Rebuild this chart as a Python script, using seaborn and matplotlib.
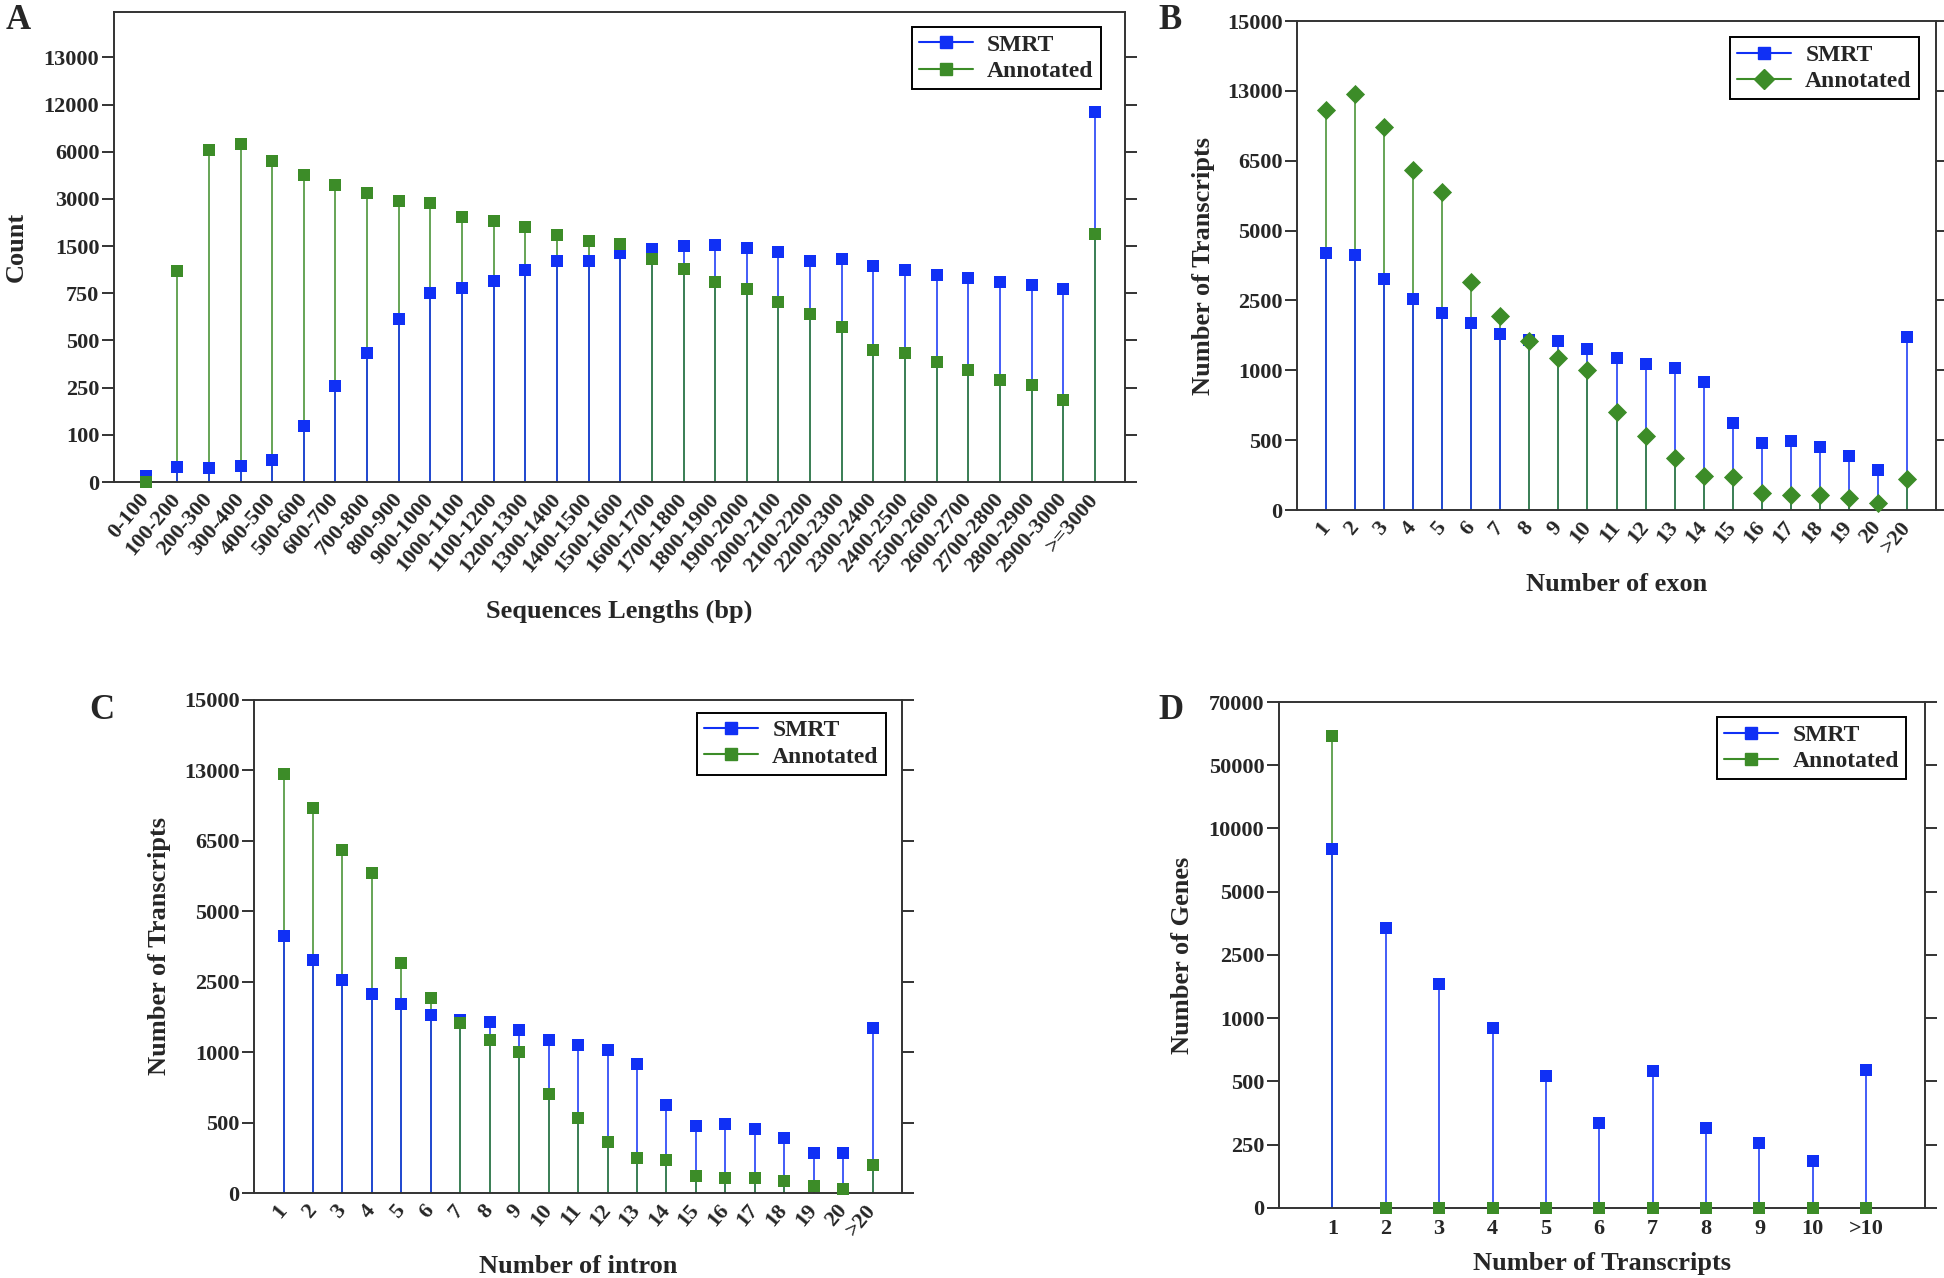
import numpy as np
import matplotlib
matplotlib.use("Agg")
import matplotlib.pyplot as plt
import seaborn as sns
from matplotlib.lines import Line2D
from matplotlib.legend_handler import HandlerLine2D

# ---- data ----
len_bins = ['0-100', '100-200', '200-300', '300-400', '400-500', '500-600', '600-700',
            '700-800', '800-900', '900-1000', '1000-1100', '1100-1200', '1200-1300',
            '1300-1400', '1400-1500', '1500-1600', '1600-1700', '1700-1800', '1800-1900',
            '1900-2000', '2000-2100', '2100-2200', '2200-2300', '2300-2400', '2400-2500',
            '2500-2600', '2600-2700', '2700-2800', '2800-2900', '2900-3000', '>=3000']
len_smrt = [12, 32, 29, 33, 46, 127, 258, 435, 613, 750, 840, 950, 1115, 1260, 1260, 1385,
            1460, 1500, 1540, 1465, 1400, 1260, 1290, 1182, 1127, 1048, 990, 930, 886, 815, 11050]
len_annot = [0, 1110, 6250, 6920, 5420, 4550, 3890, 3370, 2920, 2870, 2430, 2300, 2120,
             1855, 1660, 1565, 1298, 1140, 932, 815, 703, 640, 570, 448, 433, 386, 343,
             293, 262, 212, 1880]
len_ticks = [0, 100, 250, 500, 750, 1500, 3000, 6000, 12000, 13000]

exon_labels = ['1', '2', '3', '4', '5', '6', '7', '8', '9', '10', '11', '12', '13', '14',
               '15', '16', '17', '18', '19', '20', '>20']
exon_smrt = [4190, 4135, 3270, 2555, 2231, 2027, 1783, 1652, 1636, 1465, 1261, 1147, 1041,
             918, 620, 478, 492, 451, 390, 286, 1726]
exon_annot = [11260, 12750, 9625, 6303, 5828, 3145, 2158, 1628, 1261, 1000, 699, 530, 369,
              245, 239, 124, 110, 110, 88, 47, 225]

intron_labels = ['1', '2', '3', '4', '5', '6', '7', '8', '9', '10', '11', '12', '13', '14',
                 '15', '16', '17', '18', '19', '20', '>20']
intron_smrt = [4122, 3284, 2568, 2240, 2030, 1786, 1689, 1632, 1470, 1268, 1146, 1040, 919,
               622, 476, 492, 451, 391, 285, 285, 1511]
intron_annot = [12684, 9557, 6297, 5819, 3149, 2159, 1616, 1259, 1000, 700, 532, 364, 245,
                236, 122, 109, 109, 84, 49, 27, 196]
tx_ticks = [0, 500, 1000, 2500, 5000, 6500, 13000, 15000]

iso_labels = ['1', '2', '3', '4', '5', '6', '7', '8', '9', '10', '>10']
iso_smrt = [8373, 3569, 1800, 925, 542, 334, 581, 316, 256, 184, 590]
iso_annot = [59220, 0, 0, 0, 0, 0, 0, 0, 0, 0, 0]
gene_ticks = [0, 250, 500, 1000, 2500, 5000, 10000, 50000, 70000]

BLUE = '#1030F5'
GREEN = '#3C8C28'
EDGE = '#333333'

sns.set_style("white")
plt.rcParams['font.family'] = ['Liberation Serif', 'DejaVu Serif']
plt.rcParams['font.weight'] = 'bold'


class EndMarker(HandlerLine2D):
    # MATLAB-like legend icon: line with the marker at its right end
    def get_xdata(self, legend, xdescent, ydescent, width, height, fontsize):
        return [-xdescent, -xdescent + width], [-xdescent + width]


def piecewise(ticks, top):
    vals = np.array(list(ticks) + [top], dtype=float)
    pos = np.arange(len(vals), dtype=float)
    return (lambda v: np.interp(v, vals, pos)), (lambda p: np.interp(p, pos, vals))


def stem_panel(ax, x, smrt, annot, labels, ticks, ylim_top, scale_top, amarker,
               xlabel, ylabel, rot, ylab_x, xlab_y, leg_anchor):
    fwd, inv = piecewise(ticks, scale_top)
    ax.set_yscale('function', functions=(fwd, inv))
    smrt = np.asarray(smrt, float)
    annot = np.asarray(annot, float)
    hi = np.maximum(smrt, annot)
    lo = np.minimum(smrt, annot)
    hi_c = [BLUE if s >= a else GREEN for s, a in zip(smrt, annot)]
    lo_c = [GREEN if s >= a else BLUE for s, a in zip(smrt, annot)]
    ax.vlines(x, 0, hi, colors=hi_c, lw=1.1, zorder=2)
    ax.vlines(x, 0, lo, colors=lo_c, lw=1.1, zorder=2)
    sns.scatterplot(x=x, y=smrt, ax=ax, marker='s', color=BLUE, s=75, linewidth=0,
                    zorder=4, clip_on=False, legend=False)
    sns.scatterplot(x=x, y=annot, ax=ax, marker=amarker, color=GREEN,
                    s=95 if amarker == 'D' else 75, linewidth=0,
                    zorder=5, clip_on=False, legend=False)
    ax.set_ylim(0, ylim_top)
    ax.set_yticks(ticks)
    ax.set_yticklabels([str(t) for t in ticks], fontsize=16, fontweight='bold')
    ax.set_xticks(x)
    if rot:
        ax.set_xticklabels(labels, rotation=rot, ha='right', va='center',
                           rotation_mode='anchor', fontsize=16, fontweight='bold')
    else:
        ax.set_xticklabels(labels, fontsize=16, fontweight='bold')
    ax.tick_params(axis='x', length=0, pad=10 if rot else 8)
    ax.tick_params(axis='y', which='both', direction='out', length=8.5, width=1.4,
                   color=EDGE, left=True, right=True, labelleft=True, labelright=False,
                   pad=2)
    for sp in ax.spines.values():
        sp.set_visible(True)
        sp.set_color(EDGE)
        sp.set_linewidth(1.4)
    ax.set_xlabel(xlabel, fontsize=19, fontweight='bold')
    ax.set_ylabel(ylabel, fontsize=19, fontweight='bold')
    ax.yaxis.set_label_coords(ylab_x, 0.5)
    ax.xaxis.set_label_coords(0.5, xlab_y)
    handles = [Line2D([], [], color=BLUE, lw=1.5, marker='s', ms=9, label='SMRT'),
               Line2D([], [], color=GREEN, lw=1.5, marker=amarker,
                      ms=10 if amarker == 'D' else 9, label='Annotated')]
    leg = ax.legend(handles=handles, handler_map={Line2D: EndMarker()}, loc='upper right',
                    bbox_to_anchor=leg_anchor, borderaxespad=0, fancybox=False,
                    edgecolor='black', framealpha=1, handlelength=2.3,
                    prop={'size': 17, 'weight': 'bold'}, borderpad=0.3,
                    labelspacing=0.2, handletextpad=0.6)
    leg.get_frame().set_linewidth(1.4)


fig = plt.figure(figsize=(19.44, 12.78), dpi=100)
axA = fig.add_axes([0.0586, 0.6228, 0.5201, 0.3678])
axB = fig.add_axes([0.6672, 0.6009, 0.3287, 0.3826])
axC = fig.add_axes([0.1307, 0.0665, 0.3333, 0.3858])
axD = fig.add_axes([0.6579, 0.0548, 0.3323, 0.3959])

xA = np.arange(len(len_bins))
stem_panel(axA, xA, len_smrt, len_annot, len_bins, len_ticks, 13960, 14000, 's',
           'Sequences Lengths (bp)', 'Count', 50, -0.085, -0.251, (0.976, 0.968))
axA.set_xlim(-1, len(len_bins) - 0.05)

xB = np.arange(1, len(exon_labels) + 1)
stem_panel(axB, xB, exon_smrt, exon_annot, exon_labels, tx_ticks, 15000, 17000, 'D',
           'Number of exon', 'Number of Transcripts', 50, -0.128, -0.129, (0.973, 0.967))
axB.set_xlim(0, len(exon_labels) + 1)

xC = np.arange(1, len(intron_labels) + 1)
stem_panel(axC, xC, intron_smrt, intron_annot, intron_labels, tx_ticks, 15000, 17000, 's',
           'Number of intron', 'Number of Transcripts', 50, -0.128, -0.126, (0.975, 0.974))
axC.set_xlim(0, len(intron_labels) + 1)

xD = np.arange(1, len(iso_labels) + 1)
stem_panel(axD, xD, iso_smrt, iso_annot, iso_labels, gene_ticks, 70000, 90000, 's',
           'Number of Transcripts', 'Number of Genes', 0, -0.132, -0.087, (0.971, 0.970))
axD.set_xlim(0, len(iso_labels) + 1.1)

for txt, x, y in [('A', 0.003, 0.997), ('B', 0.596, 0.997), ('C', 0.046, 0.457),
                  ('D', 0.596, 0.457)]:
    fig.text(x, y, txt, fontsize=25, fontweight='bold', va='top', ha='left')

fig.savefig('out.png', dpi=100)
